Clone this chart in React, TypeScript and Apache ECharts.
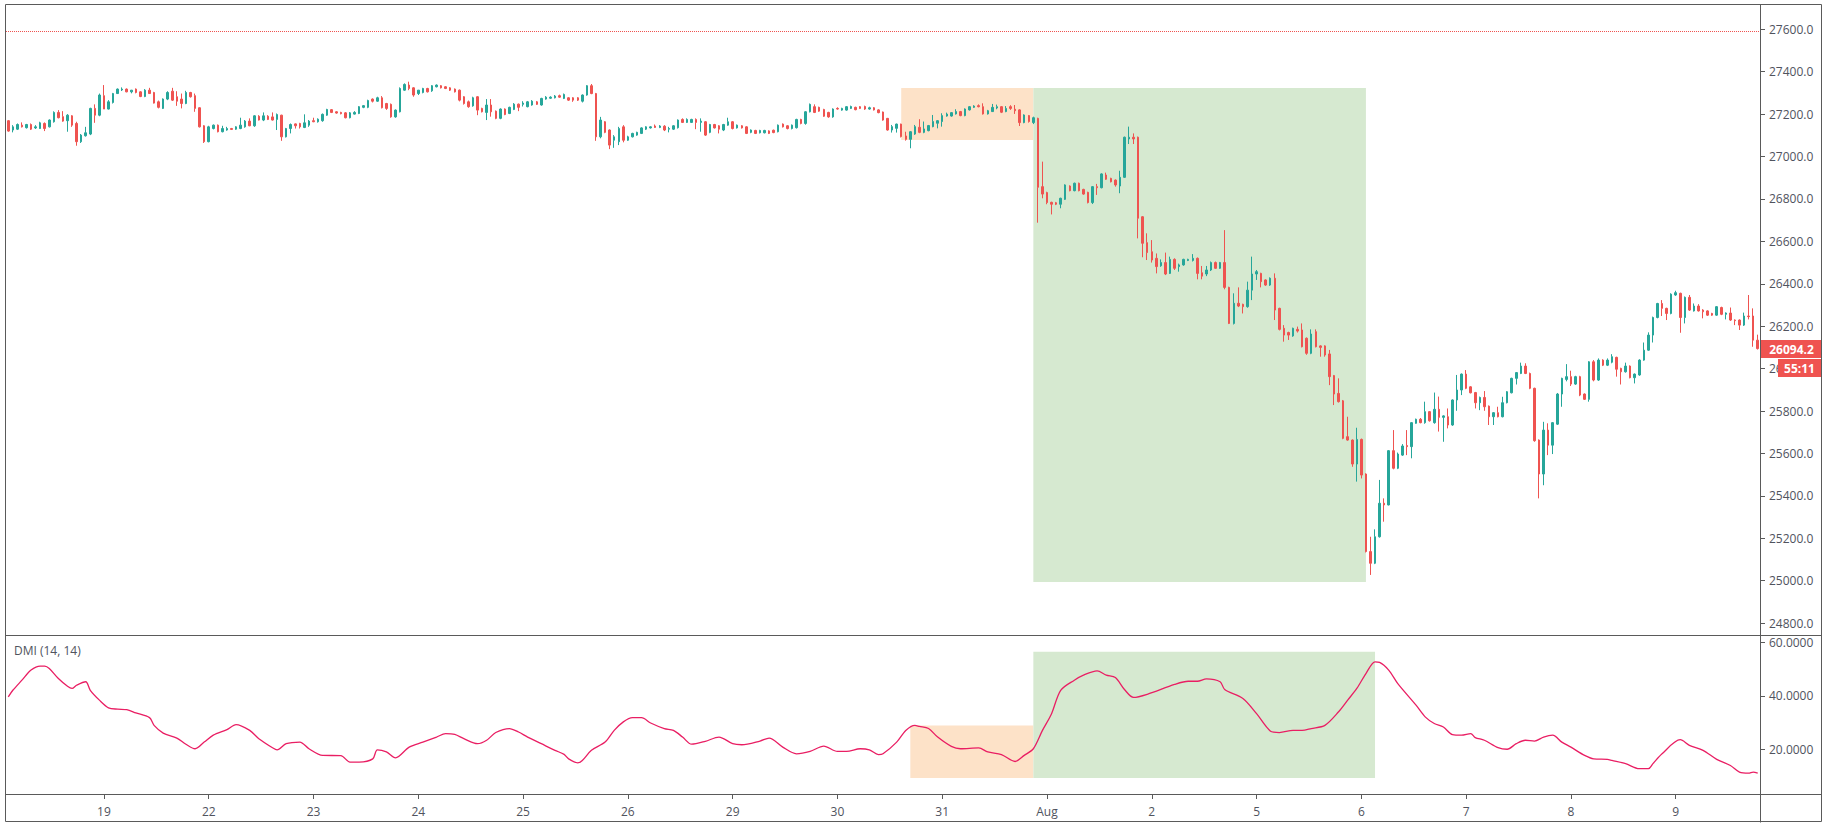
import React, { useEffect, useRef } from "react";
import * as echarts from "echarts";

// ---- data (hourly candles, Jul 18 – Aug 9) : [open, high, low, close]
const ohlc: number[][] = [
  // Jul 18 (partial)
  [27169,27172,27117,27120],[27125,27148,27114,27140],[27129,27156,27125,27151],[27148,27161,27137,27140],
  [27136,27154,27132,27151],[27151,27156,27125,27129],[27135,27148,27130,27140],[27132,27164,27130,27159],
  [27156,27161,27120,27132],[27140,27175,27137,27172],[27164,27213,27160,27208],[27208,27219,27180,27183],
  [27188,27214,27164,27167],[27169,27200,27117,27195],[27192,27195,27140,27148],[27156,27164,27051,27070],
  [27070,27106,27064,27101],[27098,27140,27094,27112],[27106,27230,27101,27227],[27227,27246,27159,27195],
  [27195,27297,27190,27290],
  // Jul 19
  [27287,27337,27224,27224],[27224,27266,27222,27258],[27255,27300,27250,27297],[27297,27321,27295,27318],
  [27314,27326,27309,27318],[27318,27321,27303,27305],[27305,27314,27298,27313],[27318,27321,27298,27302],
  [27305,27308,27280,27283],[27283,27318,27280,27313],[27313,27324,27295,27297],[27302,27305,27250,27252],
  [27258,27264,27227,27232],[27227,27274,27224,27271],[27271,27308,27266,27302],[27308,27324,27262,27266],
  [27282,27308,27239,27261],[27271,27297,27227,27250],[27250,27310,27247,27302],[27302,27305,27278,27282],
  [27287,27297,27211,27227],[27230,27232,27137,27140],[27145,27148,27064,27070],
  // Jul 22
  [27070,27145,27067,27140],[27132,27151,27128,27148],[27148,27151,27114,27117],[27117,27145,27114,27132],
  [27125,27140,27122,27132],[27132,27135,27125,27128],[27129,27143,27126,27140],[27132,27183,27129,27148],
  [27140,27172,27136,27167],[27167,27180,27143,27145],[27145,27195,27140,27192],[27190,27195,27170,27172],
  [27172,27208,27167,27192],[27190,27195,27172,27175],[27187,27208,27170,27172],[27175,27203,27125,27198],
  [27195,27197,27074,27093],[27093,27135,27090,27132],[27132,27156,27109,27151],[27154,27156,27132,27145],
  [27156,27159,27132,27140],[27137,27199,27134,27159],[27148,27172,27140,27167],
  // Jul 23
  [27169,27183,27162,27164],[27164,27180,27160,27176],[27169,27203,27164,27199],[27195,27225,27192,27222],
  [27221,27224,27205,27208],[27211,27214,27202,27205],[27208,27211,27199,27202],[27206,27210,27180,27183],
  [27183,27210,27180,27206],[27200,27214,27198,27208],[27203,27238,27200,27235],[27232,27243,27228,27240],
  [27232,27268,27228,27264],[27271,27274,27255,27261],[27261,27282,27258,27277],[27277,27285,27227,27230],
  [27250,27253,27220,27227],[27246,27250,27183,27187],[27187,27222,27183,27219],[27211,27326,27208,27321],
  [27313,27345,27310,27340],[27337,27353,27313,27321],[27324,27327,27282,27290],
  // Jul 24
  [27297,27314,27290,27313],[27302,27324,27298,27321],[27321,27324,27302,27305],[27310,27337,27305,27334],
  [27329,27340,27326,27337],[27334,27337,27321,27324],[27329,27332,27318,27321],[27324,27327,27309,27313],
  [27318,27321,27302,27305],[27313,27316,27260,27266],[27282,27285,27245,27250],[27258,27264,27230,27235],
  [27239,27282,27235,27277],[27282,27285,27195,27219],[27227,27230,27208,27211],[27208,27271,27172,27243],
  [27243,27271,27188,27211],[27214,27217,27176,27180],[27180,27227,27176,27224],[27224,27227,27195,27198],
  [27203,27235,27200,27232],[27222,27252,27219,27247],[27247,27250,27214,27232],
  // Jul 25
  [27246,27261,27236,27252],[27235,27262,27232,27258],[27243,27266,27240,27261],[27258,27262,27243,27246],
  [27243,27277,27240,27274],[27271,27285,27268,27280],[27275,27284,27272,27280],[27277,27290,27274,27285],
  [27287,27292,27277,27280],[27274,27297,27271,27293],[27277,27280,27262,27266],[27277,27280,27258,27266],
  [27277,27280,27262,27266],[27261,27293,27255,27290],[27290,27337,27287,27334],[27334,27342,27294,27297],
  [27297,27300,27074,27093],[27093,27187,27086,27172],[27164,27167,27110,27114],[27125,27128,27035,27054],
  [27077,27101,27041,27093],[27070,27140,27054,27132],[27140,27148,27067,27077],
  // Jul 26
  [27077,27098,27074,27093],[27093,27112,27090,27109],[27101,27117,27098,27114],[27109,27138,27106,27135],
  [27129,27143,27125,27140],[27135,27143,27132,27140],[27144,27151,27135,27137],[27137,27148,27134,27144],
  [27143,27148,27120,27125],[27129,27140,27114,27132],[27129,27148,27125,27145],[27136,27175,27132,27172],
  [27175,27180,27158,27161],[27161,27180,27158,27175],[27161,27178,27158,27175],[27175,27180,27129,27161],
  [27161,27180,27117,27167],[27164,27167,27097,27101],[27114,27154,27110,27151],[27151,27154,27132,27135],
  [27145,27148,27109,27129],[27125,27154,27120,27151],[27148,27183,27145,27164],
  // Jul 29
  [27164,27167,27128,27132],[27135,27151,27132,27148],[27145,27148,27132,27135],[27140,27143,27106,27109],
  [27114,27128,27110,27125],[27123,27126,27106,27109],[27112,27126,27109,27123],[27112,27126,27109,27123],
  [27121,27124,27106,27109],[27124,27127,27110,27113],[27117,27151,27114,27148],[27153,27156,27137,27140],
  [27145,27148,27128,27132],[27132,27151,27128,27148],[27136,27178,27132,27175],[27175,27178,27152,27156],
  [27156,27214,27150,27211],[27211,27250,27208,27246],[27235,27246,27205,27208],[27232,27235,27211,27214],
  [27222,27225,27187,27190],[27208,27211,27183,27187],[27187,27227,27183,27224],
  // Jul 30
  [27227,27232,27221,27224],[27219,27230,27216,27227],[27219,27238,27216,27235],[27227,27240,27224,27236],
  [27232,27235,27218,27221],[27235,27238,27224,27227],[27236,27240,27220,27224],[27224,27235,27221,27230],
  [27230,27233,27217,27220],[27220,27223,27204,27207],[27210,27212,27169,27172],[27180,27182,27122,27125],
  [27125,27149,27113,27141],[27133,27155,27113,27153],[27153,27155,27090,27094],[27097,27117,27075,27081],
  [27081,27120,27039,27117],[27106,27149,27102,27141],[27138,27176,27110,27114],[27114,27165,27110,27130],
  [27122,27149,27119,27146],[27141,27196,27138,27165],[27157,27172,27133,27169],
  // Jul 31
  [27165,27204,27141,27193],[27191,27207,27188,27200],[27191,27210,27188,27207],[27201,27223,27198,27212],
  [27212,27215,27190,27193],[27193,27227,27190,27224],[27220,27238,27217,27235],[27232,27242,27229,27238],
  [27240,27246,27232,27235],[27235,27251,27198,27201],[27201,27220,27198,27216],[27212,27248,27210,27232],
  [27229,27245,27223,27235],[27235,27238,27205,27209],[27212,27238,27209,27227],[27235,27242,27220,27227],
  [27223,27243,27201,27216],[27220,27223,27144,27160],[27160,27199,27157,27196],[27193,27196,27160,27165],
  [27160,27188,27153,27183],[27180,27183,26688,26855],[26858,26976,26803,26823],
  // Aug 1
  [26830,26834,26775,26783],[26784,26787,26727,26775],[26782,26786,26771,26775],[26775,26806,26756,26803],
  [26798,26869,26795,26866],[26861,26864,26836,26839],[26839,26877,26836,26874],[26874,26877,26836,26839],
  [26845,26848,26820,26823],[26831,26834,26779,26783],[26783,26861,26776,26858],[26858,26871,26819,26853],
  [26853,26921,26850,26918],[26913,26924,26890,26893],[26897,26900,26878,26881],[26889,26892,26858,26866],
  [26861,26933,26827,26902],[26902,27094,26899,27091],[27083,27141,27059,27091],[27091,27109,27059,27083],
  [27091,27094,26614,26709],[26716,26719,26525,26591],[26594,26638,26512,26547],
  // Aug 2
  [26551,26606,26500,26512],[26520,26543,26449,26481],[26485,26515,26480,26500],[26500,26547,26441,26446],
  [26449,26528,26446,26515],[26515,26520,26465,26473],[26481,26495,26457,26489],[26489,26518,26485,26515],
  [26510,26518,26507,26515],[26510,26540,26505,26520],[26520,26524,26421,26449],[26452,26484,26421,26436],
  [26446,26484,26436,26465],[26465,26505,26460,26500],[26500,26505,26470,26473],[26473,26503,26470,26500],
  [26500,26653,26374,26383],[26383,26386,26210,26213],[26213,26355,26208,26308],[26308,26383,26290,26295],
  [26303,26306,26260,26292],[26292,26410,26287,26370],[26370,26528,26323,26446],
  // Aug 5
  [26446,26465,26418,26457],[26449,26452,26383,26410],[26418,26421,26390,26394],[26394,26430,26390,26426],
  [26426,26449,26229,26276],[26284,26287,26180,26185],[26190,26205,26127,26158],[26170,26174,26135,26158],
  [26154,26193,26150,26190],[26185,26198,26170,26177],[26182,26213,26100,26103],[26143,26147,26065,26072],
  [26072,26185,26068,26163],[26174,26185,26100,26103],[26107,26110,26056,26100],[26107,26110,26056,26064],
  [26069,26088,25922,25962],[25967,25970,25828,25880],[25883,25954,25840,25844],[25848,25852,25667,25671],
  [25679,25773,25660,25663],[25663,25666,25537,25550],[25550,25721,25467,25666],
  // Aug 6
  [25666,25670,25482,25498],[25503,25506,25133,25137],[25137,25207,25027,25082],[25082,25242,25078,25207],
  [25207,25475,25203,25365],[25365,25388,25278,25357],[25357,25616,25355,25613],[25613,25710,25525,25530],
  [25530,25604,25526,25597],[25592,25644,25588,25635],[25637,25710,25592,25632],[25632,25748,25577,25745],
  [25742,25764,25740,25761],[25761,25767,25742,25745],[25745,25844,25740,25797],[25797,25800,25750,25754],
  [25745,25887,25740,25808],[25808,25868,25703,25770],[25770,25780,25655,25777],[25773,25812,25718,25734],
  [25734,25855,25730,25852],[25852,25970,25801,25899],[25899,25977,25875,25974],
  // Aug 7
  [25974,25993,25903,25907],[25914,25917,25883,25886],[25887,25890,25812,25839],[25839,25868,25804,25864],
  [25864,25894,25801,25820],[25823,25826,25734,25773],[25773,25795,25734,25792],[25792,25820,25770,25773],
  [25773,25867,25770,25839],[25839,25894,25836,25891],[25886,25957,25883,25954],[25954,25984,25925,25981],
  [25977,26028,25974,26012],[26012,26025,25974,25977],[25977,25981,25903,25907],[25907,25910,25655,25660],
  [25663,25666,25388,25503],[25503,25749,25450,25710],[25710,25742,25592,25639],[25639,25748,25597,25745],
  [25738,25885,25734,25880],[25880,25957,25820,25954],[25949,26021,25940,25962],
  // Aug 8
  [25962,25990,25918,25927],[25927,25966,25923,25962],[25962,25966,25870,25875],[25880,25883,25852,25855],
  [25855,26035,25844,26032],[26032,26040,25940,25946],[25946,26048,25942,26040],[26040,26044,26012,26016],
  [26016,26048,26012,26040],[26030,26068,26025,26056],[26053,26056,25962,25997],[26001,26004,25925,25985],
  [25985,26028,25981,26012],[26012,26015,25954,25957],[25957,25977,25930,25974],[25970,26044,25966,26040],
  [26040,26123,26037,26087],[26087,26171,26084,26158],[26158,26245,26123,26241],[26241,26310,26237,26307],
  [26307,26323,26248,26284],[26284,26287,26229,26260],[26260,26355,26256,26351],
  // Aug 9
  [26347,26367,26343,26358],[26355,26358,26169,26241],[26241,26340,26213,26336],[26336,26347,26272,26276],
  [26272,26307,26269,26295],[26295,26304,26269,26272],[26276,26280,26237,26268],[26272,26275,26248,26252],
  [26260,26263,26249,26252],[26252,26295,26249,26292],[26288,26292,26252,26256],[26256,26265,26232,26262],
  [26262,26288,26225,26229],[26229,26232,26205,26226],[26229,26232,26182,26205],[26205,26264,26201,26248],
  [26248,26347,26232,26245],[26248,26284,26103,26134],[26134,26160,26090,26094.2],
];

// ---- x axis: first candle of each session and its label
const dayStarts = [21, 44, 67, 90, 113, 136, 159, 182, 205, 228, 251, 274, 297, 320, 343, 366];
const dayLabels = ["19", "22", "23", "24", "25", "26", "29", "30", "31", "Aug", "2", "5", "6", "7", "8", "9"];

// ---- DMI (ADX) line : [candle index, value]
const dmiPoints: number[][] = [
  [0,39.6],[1,42.1],[3,45.9],[5,49.7],[7,51.2],[8,51.2],[9,50.3],[11,46.5],[13,43.6],[14,42.8],[15,44.0],
  [17,45.3],[18,42.1],[20,38.4],[22,35.5],[24,35.0],[26,34.8],[28,33.6],[31,31.8],[32,28.9],[34,26.0],
  [37,24.1],[39,21.8],[41,20.1],[43,22.6],[45,25.2],[48,27.3],[50,29.2],[53,27.0],[55,23.9],[58,20.5],
  [59,19.7],[61,22.0],[64,22.6],[66,20.1],[69,17.6],[73,17.5],[75,15.1],[77,15.1],[80,16.3],[81,19.7],
  [83,18.9],[85,16.7],[88,20.7],[91,22.6],[94,24.5],[96,25.8],[98,25.5],[100,23.9],[103,22.0],[105,23.3],
  [107,26.2],[110,27.7],[112,26.4],[114,24.5],[117,22.0],[120,19.5],[122,18.0],[123,16.3],[125,14.8],
  [126,15.7],[128,19.5],[131,22.6],[133,27.0],[135,30.2],[137,31.8],[139,31.8],[141,29.8],[144,27.7],
  [146,27.0],[148,24.5],[150,21.8],[153,22.9],[156,24.5],[159,22.0],[161,21.6],[165,23.0],[167,24.1],
  [170,20.7],[173,18.2],[176,19.1],[179,21.1],[182,19.1],[184,19.1],[187,20.1],[189,19.7],[191,17.9],
  [192,18.2],[195,22.6],[197,27.0],[199,28.9],[200,28.5],[202,27.7],[204,24.5],[207,21.0],[209,20.1],
  [213,20.4],[215,18.9],[218,17.9],[221,15.3],[223,17.6],[225,20.1],[227,27.0],[229,33.3],[231,42.1],
  [234,45.9],[236,47.8],[239,49.4],[241,47.8],[243,46.9],[245,42.4],[247,39.4],[250,40.6],[256,44.3],
  [259,45.5],[261,45.5],[263,46.4],[266,45.3],[267,42.4],[271,39.0],[274,33.3],[277,26.8],[279,26.2],
  [282,27.0],[284,27.0],[286,27.7],[289,28.9],[292,34.0],[294,38.4],[296,42.8],[298,48.4],[300,52.8],
  [301,52.6],[303,49.7],[305,44.6],[309,36.5],[311,32.1],[313,29.6],[315,28.3],[317,25.4],[319,25.2],
  [321,25.8],[322,24.3],[324,23.3],[327,20.5],[329,19.9],[331,22.0],[333,23.3],[335,23.0],[337,24.5],
  [339,25.2],[341,22.6],[343,20.7],[346,17.6],[348,16.3],[351,16.1],[352,15.7],[355,14.5],[358,12.6],
  [360,12.6],[361,14.5],[363,18.2],[367,23.5],[369,21.4],[372,19.5],[375,16.1],[378,13.8],[380,11.3],
  [382,10.9],[383,11.3],[384,10.9],
];

// ---- drawn zones [fromIndex, toIndex, low, high]
const priceOrangeZone = [196, 225, 27078, 27323];
const priceGreenZone = [225, 298, 24994, 27323];
const dmiOrangeZone = [198, 225, 9.1, 28.8];
const dmiGreenZone = [225, 300, 9.1, 56.6];
const highLevel = 27590;
const countdown = "55:11";

// ---- axis extents
const priceMin = 24743.7;
const priceMax = 27714.6;
const priceStep = 200;
const dmiMin = 3.07;
const dmiMax = 62.9;
const dmiStep = 20;

const UP = "#26a69a";
const DOWN = "#ef5350";
const ORANGE = "#fde2c8";
const GREEN = "#d6e9d0";
const LINE = "#5a5a5a";
const TEXT = "#50535e";
const FONT = "'Open Sans', 'Noto Sans', sans-serif";

const W = 1824;
const H = 826;
const PLOT_L = 6;
const PLOT_R = 1760;
const TOP = 5;
const DIV = 635;
const XAX = 794;
const BOTTOM = 822;
const RIGHT = 1821;

function zone(z: number[], color: string) {
  return [
    { xAxis: z[0], yAxis: z[3], itemStyle: { color, opacity: 1, borderWidth: 0 } },
    { xAxis: z[1], yAxis: z[2] },
  ];
}

export default function App() {
  const ref = useRef<HTMLDivElement>(null);

  useEffect(() => {
    document.body.style.margin = "0";
    document.body.style.overflow = "hidden";
    const el = ref.current!;
    const chart = echarts.init(el, null, { renderer: "svg" });

    const keys = ohlc.map((_, i) => String(i));
    const candles = ohlc.map((d) => [d[0], d[3], d[2], d[1]]);
    const isDayStart = (i: number) => dayStarts.indexOf(i) >= 0;

    const option: any = {
      animation: false,
      backgroundColor: "#ffffff",
      textStyle: { fontFamily: FONT },
      grid: [
        { left: PLOT_L, right: W - PLOT_R, top: TOP, height: DIV - TOP },
        { left: PLOT_L, right: W - PLOT_R, top: DIV, height: XAX - DIV },
      ],
      xAxis: [
        {
          type: "category",
          gridIndex: 0,
          data: keys,
          boundaryGap: true,
          show: false,
        },
        {
          type: "category",
          gridIndex: 1,
          data: keys,
          boundaryGap: true,
          axisLine: { show: false },
          axisTick: {
            show: true,
            alignWithLabel: true,
            length: 5,
            interval: (i: number) => isDayStart(i),
            lineStyle: { color: LINE },
          },
          axisLabel: {
            interval: (i: number) => isDayStart(i),
            formatter: (_v: string, i: number) => {
              const k = dayStarts.indexOf(i);
              return k >= 0 ? dayLabels[k] : "";
            },
            color: TEXT,
            fontSize: 12,
            fontFamily: FONT,
            margin: 11,
          },
          splitLine: { show: false },
        },
      ],
      yAxis: [
        {
          type: "value",
          gridIndex: 0,
          position: "right",
          min: priceMin,
          max: priceMax,
          minInterval: priceStep,
          maxInterval: priceStep,
          scale: true,
          axisLine: { show: false },
          axisTick: { show: true, length: 5, lineStyle: { color: LINE } },
          splitLine: { show: false },
          axisLabel: {
            showMinLabel: false,
            showMaxLabel: false,
            color: TEXT,
            fontSize: 12,
            fontFamily: FONT,
            margin: 9,
            formatter: (v: number) => (Math.abs(v % priceStep) < 1e-6 ? v.toFixed(1) : ""),
          },
        },
        {
          type: "value",
          gridIndex: 1,
          position: "right",
          min: dmiMin,
          max: dmiMax,
          minInterval: dmiStep,
          maxInterval: dmiStep,
          scale: true,
          axisLine: { show: false },
          axisTick: { show: true, length: 5, lineStyle: { color: LINE } },
          splitLine: { show: false },
          axisLabel: {
            showMinLabel: false,
            showMaxLabel: false,
            color: TEXT,
            fontSize: 12,
            fontFamily: FONT,
            margin: 9,
            formatter: (v: number) => (Math.abs(v % dmiStep) < 1e-6 ? v.toFixed(4) : ""),
          },
        },
      ],
      series: [
        {
          type: "line",
          xAxisIndex: 0,
          yAxisIndex: 0,
          data: [],
          z: 1,
          silent: true,
          markArea: {
            silent: true,
            data: [zone(priceOrangeZone, ORANGE), zone(priceGreenZone, GREEN)],
          },
          markLine: {
            silent: true,
            symbol: "none",
            label: { show: false },
            lineStyle: { type: "dotted", color: DOWN, width: 1 },
            data: [{ yAxis: highLevel }],
          },
        },
        {
          type: "candlestick",
          xAxisIndex: 0,
          yAxisIndex: 0,
          data: candles,
          z: 3,
          barWidth: 2,
          itemStyle: {
            color: UP,
            color0: DOWN,
            borderColor: UP,
            borderColor0: DOWN,
            borderWidth: 1,
          },
        },
        {
          type: "line",
          xAxisIndex: 1,
          yAxisIndex: 1,
          data: [],
          z: 1,
          silent: true,
          markArea: {
            silent: true,
            data: [zone(dmiOrangeZone, ORANGE), zone(dmiGreenZone, GREEN)],
          },
        },
        {
          type: "line",
          xAxisIndex: 1,
          yAxisIndex: 1,
          data: dmiPoints,
          z: 3,
          showSymbol: false,
          smooth: 0.3,
          lineStyle: { color: "#e91e63", width: 1.3 },
          itemStyle: { color: "#e91e63" },
        },
      ],
    };

    chart.setOption(option);

    const last = ohlc[ohlc.length - 1][3];
    const yLast = chart.convertToPixel({ yAxisIndex: 0 }, last) as number;

    chart.setOption({
      graphic: [
        {
          type: "rect",
          z: 100,
          shape: { x: 5.5, y: 4.5, width: RIGHT - 5, height: BOTTOM - 5 },
          style: { fill: "none", stroke: LINE, lineWidth: 1 },
          silent: true,
        },
        {
          type: "line",
          z: 100,
          shape: { x1: 5.5, y1: DIV + 0.5, x2: RIGHT + 0.5, y2: DIV + 0.5 },
          style: { stroke: LINE, lineWidth: 1 },
          silent: true,
        },
        {
          type: "line",
          z: 100,
          shape: { x1: 5.5, y1: XAX + 0.5, x2: RIGHT + 0.5, y2: XAX + 0.5 },
          style: { stroke: LINE, lineWidth: 1 },
          silent: true,
        },
        {
          type: "line",
          z: 100,
          shape: { x1: PLOT_R + 0.5, y1: 4.5, x2: PLOT_R + 0.5, y2: BOTTOM + 0.5 },
          style: { stroke: LINE, lineWidth: 1 },
          silent: true,
        },
        {
          type: "text",
          z: 100,
          left: 14,
          top: 644,
          style: { text: "DMI (14, 14)", fill: TEXT, font: `12px ${FONT}` },
          silent: true,
        },
        {
          type: "rect",
          z: 101,
          shape: { x: PLOT_R + 1, y: Math.round(yLast) - 9, width: RIGHT - PLOT_R - 1, height: 18 },
          style: { fill: DOWN },
          silent: true,
        },
        {
          type: "text",
          z: 102,
          x: (PLOT_R + RIGHT) / 2 + 1,
          y: Math.round(yLast),
          style: {
            text: last.toFixed(1),
            fill: "#ffffff",
            font: `bold 12px ${FONT}`,
            align: "center",
            verticalAlign: "middle",
          },
          silent: true,
        },
        {
          type: "rect",
          z: 101,
          shape: { x: 1778, y: Math.round(yLast) + 10, width: RIGHT - 1778, height: 18 },
          style: { fill: DOWN },
          silent: true,
        },
        {
          type: "text",
          z: 102,
          x: (1778 + RIGHT) / 2,
          y: Math.round(yLast) + 19,
          style: {
            text: countdown,
            fill: "#ffffff",
            font: `bold 12px ${FONT}`,
            align: "center",
            verticalAlign: "middle",
          },
          silent: true,
        },
      ],
    });

    return () => chart.dispose();
  }, []);

  return <div ref={ref} style={{ width: W, height: H }} />;
}
